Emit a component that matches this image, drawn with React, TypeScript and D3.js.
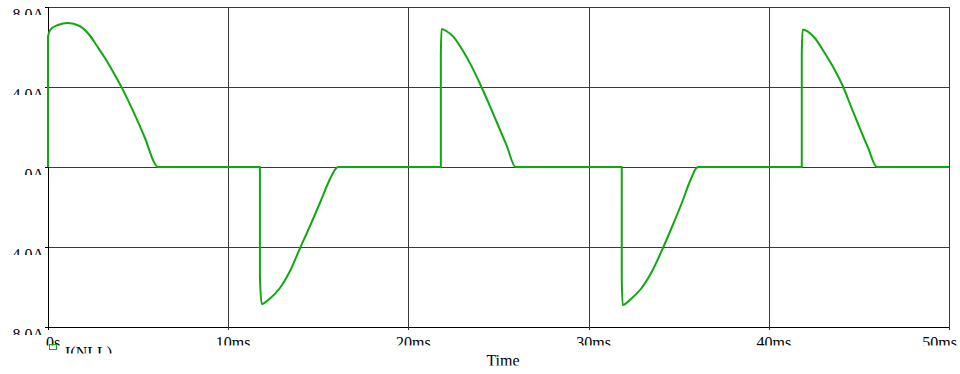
import React from "react";
import * as d3 from "d3";

// Time axis (ms) and current (A)
const timeMs = [
  0, 0, 0.12, 0.55, 1.1, 1.75, 2.3, 2.72, 3.16, 3.6, 4.09, 4.73, 5.38, 5.94, 6.1,
  11.76, 11.76, 11.86, 12.32, 12.87, 13.43, 13.98, 14.54, 15.09, 15.65, 15.98, 16.1,
  21.8, 21.8, 21.84, 22.1, 22.49, 23.05, 23.51, 24.03, 24.44, 24.9, 25.45, 25.95,
  31.84, 31.84, 31.89, 32.35, 32.9, 33.5, 34.15, 34.65, 35.15, 35.7, 35.98, 36.1,
  41.83, 41.83, 41.88, 42.15, 42.55, 43.1, 43.6, 44.13, 44.55, 45.0, 45.5, 46.0,
  50,
];
const currentA = [
  0, 6.5, 6.85, 7.1, 7.2, 7.05, 6.6, 6.05, 5.45, 4.78, 3.98, 2.78, 1.45, 0.15, 0,
  0, -5.48, -6.85, -6.57, -6.05, -5.2, -4.07, -2.95, -1.8, -0.6, -0.07, 0,
  0, 5.6, 6.9, 6.8, 6.52, 5.77, 5.03, 4.05, 3.22, 2.25, 1.08, 0,
  0, -5.57, -6.9, -6.6, -6.1, -5.25, -4.0, -2.95, -1.85, -0.55, -0.05, 0,
  0, 5.7, 6.88, 6.78, 6.45, 5.7, 4.95, 4.0, 3.05, 2.05, 0.98, 0,
  0,
];

const xTickValues = [0, 10, 20, 30, 40, 50];
const xTickLabels = ["0s", "10ms", "20ms", "30ms", "40ms", "50ms"];
const yTickValues = [8, 4, 0, -4, -8];
const yTickLabels = ["8.0A", "4.0A", "0A", "-4.0A", "-8.0A"];
const legendLabel = "I(NLL)";
const xAxisTitle = "Time";

const W = 960;
const H = 374;
const FONT = "'Liberation Serif', 'Times New Roman', serif";
const GREEN = "#10a810";

export default function App() {
  const x = d3.scaleLinear().domain([0, 50]).range([48, 949]);
  const y = d3.scaleLinear().domain([-8, 8]).range([327, 7]);
  const pts: [number, number][] = timeMs.map((t, i) => [t, currentA[i]]);
  const line = d3
    .line<[number, number]>()
    .x((d) => x(d[0]))
    .y((d) => y(d[1]))
    .curve(d3.curveMonotoneX);

  const x0 = x(0);
  const x1 = x(50);
  const yTop = y(8);
  const yBot = y(-8);
  const crisp = (v: number) => Math.round(v) + 0.5;
  const lastIdx = xTickValues.length - 1;

  return (
    <div style={{ position: "fixed", left: 0, top: 0, width: W, height: H, background: "#fff" }}>
      <svg width={W} height={H} style={{ display: "block" }}>
        <defs>
          {yTickValues.map((v, i) => (
            <clipPath id={`yc${i}`} key={`yc${i}`}>
              <rect x={0} y={y(v)} width={47} height={8} />
            </clipPath>
          ))}
          {xTickValues.map((v, i) => (
            <clipPath id={`xc${i}`} key={`xc${i}`}>
              <rect x={x(v) - 45} y={yBot + 2} width={90} height={16.5} />
            </clipPath>
          ))}
          <clipPath id="legc">
            <rect x={60} y={344} width={120} height={9.5} />
          </clipPath>
          <clipPath id="timec">
            <rect x={440} y={350} width={120} height={15.5} />
          </clipPath>
        </defs>
        <rect x={0} y={0} width={W} height={H} fill="#fff" />

        {/* horizontal gridlines */}
        {yTickValues.map((v) => (
          <line
            key={`hg${v}`}
            x1={x0}
            x2={x1}
            y1={crisp(y(v))}
            y2={crisp(y(v))}
            stroke={v === -8 ? "#000" : "#3a3a3a"}
            strokeWidth={1}
          />
        ))}
        {/* vertical gridlines */}
        {xTickValues.map((v) => (
          <line
            key={`vg${v}`}
            x1={crisp(x(v))}
            x2={crisp(x(v))}
            y1={yTop}
            y2={yBot + 3}
            stroke={v === 0 ? "#000" : "#3a3a3a"}
            strokeWidth={1}
          />
        ))}
        {/* left ticks */}
        {yTickValues.map((v) => (
          <line
            key={`lt${v}`}
            x1={x0 - 3}
            x2={x0}
            y1={crisp(y(v))}
            y2={crisp(y(v))}
            stroke="#000"
          />
        ))}

        {/* y labels */}
        {yTickValues.map((v, i) => (
          <text
            key={`yl${v}`}
            x={44}
            y={y(v) + 12.5}
            textAnchor="end"
            fontFamily={FONT}
            fontSize={16}
            fill="#000"
            clipPath={`url(#yc${i})`}
          >
            {yTickLabels[i]}
          </text>
        ))}
        {/* x labels */}
        {xTickValues.map((v, i) => (
          <text
            key={`xl${v}`}
            x={i === lastIdx ? 957 : x(v) + 5}
            y={yBot + 21}
            textAnchor={i === lastIdx ? "end" : "middle"}
            fontFamily={FONT}
            fontSize={16}
            fill="#000"
            clipPath={`url(#xc${i})`}
          >
            {xTickLabels[i]}
          </text>
        ))}

        {/* trace */}
        <path d={line(pts) || ""} fill="none" stroke={GREEN} strokeWidth={2} strokeLinejoin="round" />

        {/* legend */}
        <rect x={49.5} y={344.5} width={7} height={5} fill="none" stroke={GREEN} strokeWidth={1} />
        <text x={65} y={357.5} fontFamily={FONT} fontSize={16} fill="#000" clipPath="url(#legc)">
          {legendLabel}
        </text>
        <text
          x={503}
          y={366}
          textAnchor="middle"
          fontFamily={FONT}
          fontSize={16}
          fill="#000"
          clipPath="url(#timec)"
        >
          {xAxisTitle}
        </text>
      </svg>
    </div>
  );
}
